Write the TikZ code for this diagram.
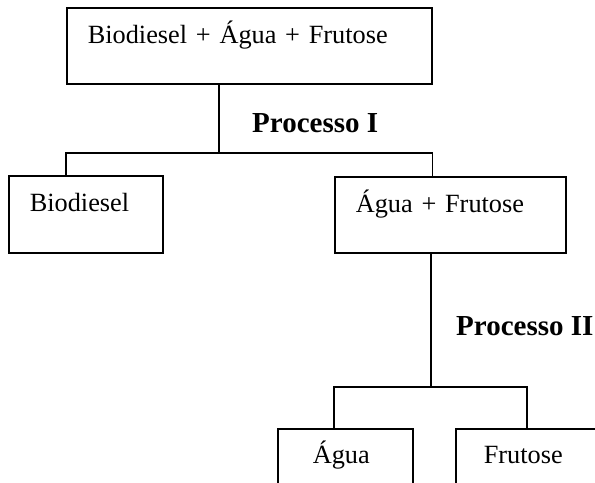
\documentclass[tikz,border=0pt]{standalone}
\usepackage{fontspec}
\setmainfont{Liberation Serif}
\usepackage{tikz}
\tikzset{
box/.style={
  draw,
  line width=1.6bp,
  anchor=north west,
  align=left,
  inner xsep=21bp,
  inner ysep=0pt,
  text height=36bp,
  text depth=40bp,
  font=\fontsize{26.3bp}{30bp}\selectfont
},
proc/.style={anchor=base west, inner sep=0pt, font=\fontsize{29bp}{33bp}\selectfont\bfseries},
link/.style={line width=1.6bp},
}

\begin{document}
\begin{tikzpicture}[x=1bp,y=-1bp]
\useasboundingbox (0,0) rectangle (595,483);
\clip (0,0) rectangle (595,483);
% the boxes
\node (mix) [box,text width=323bp] at (66,7) {Biodiesel + Água + Frutose};
\node (bio) [box,text width=112bp,text depth=41bp] at (8,175) {Biodiesel};
\node (agfr) [box,text width=189bp] at (334,176) {Água + Frutose};
\node (agua) [box,inner xsep=35bp,text width=65bp,text height=35bp,text depth=80bp] at (277,428) {Água};
\node (fru) [box,inner xsep=28bp,text width=99bp,text height=35bp,text depth=80bp] at (455,428) {Frutose};
% the labels
\node (p1) [proc] at (252,133) {Processo I};
\node (p2) [proc] at (456,335) {Processo II};
% the lines
\coordinate (s1) at (219,153);
\coordinate (s2) at (431,387);
\coordinate (r2) at (527,387);
\draw[link] (mix.south -| s1) -- (s1);
\draw[link] (bio.north -| mix.west) -- (s1 -| mix.west) -- (s1 -| mix.east) -- (agfr.north -| mix.east);
\draw[link] (agfr.south -| s2) -- (s2);
\draw[link] (agua.north -| agfr.west) -- (s2 -| agfr.west) -- (r2) -- (fru.north -| r2);
\end{tikzpicture}
\end{document}
